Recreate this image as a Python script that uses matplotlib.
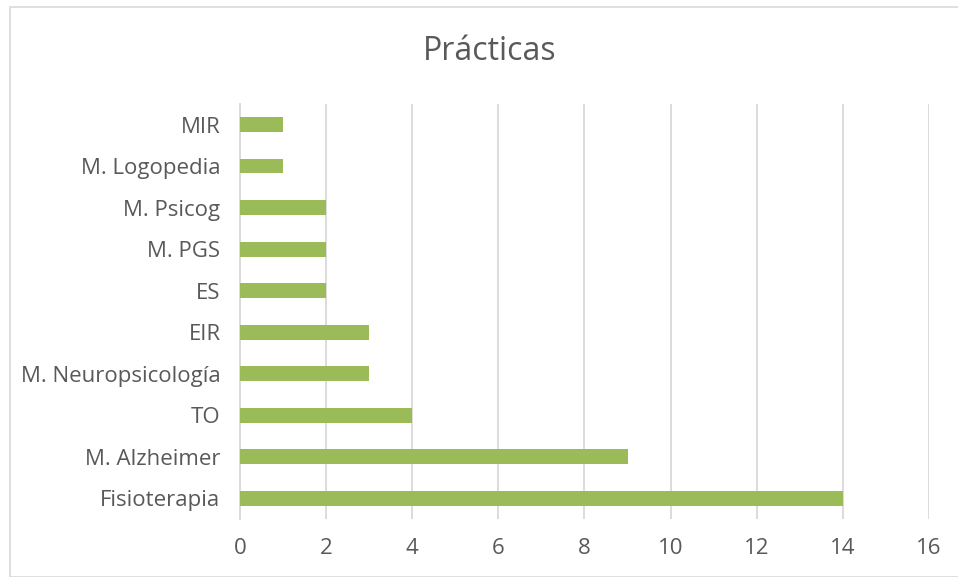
import matplotlib.pyplot as plt
from matplotlib.patches import Rectangle

categories = ['Fisioterapia', 'M. Alzheimer', 'TO', 'M. Neuropsicología', 'EIR',
              'ES', 'M. PGS', 'M. Psicog', 'M. Logopedia', 'MIR']
values = [14, 9, 4, 3, 3, 2, 2, 2, 1, 1]
xticks = [0, 2, 4, 6, 8, 10, 12, 14, 16]

plt.rcParams['font.family'] = ['Open Sans', 'DejaVu Sans']
text_color = '#595959'

fig = plt.figure(figsize=(9.58, 5.77), dpi=100)
ax = fig.add_axes([0.2505, 0.1005, 0.7192, 0.7193])

ax.barh(range(len(categories)), values, height=0.35, color='#9bbb59', zorder=3)

ax.set_xlim(0, 16)
ax.set_ylim(-0.5, len(categories) - 0.5)
ax.set_xticks(xticks)
ax.set_yticks(range(len(categories)))
ax.set_yticklabels(categories)
ax.grid(axis='x', color='#d9d9d9', linewidth=1.3, zorder=0)
ax.tick_params(length=0, labelsize=16, colors=text_color, pad=14)
ax.tick_params(axis='x', pad=14)
for s in ['top', 'right', 'bottom']:
    ax.spines[s].set_visible(False)
ax.spines['left'].set_color('#d9d9d9')
ax.spines['left'].set_linewidth(1.3)

fig.text(0.511, 0.91, 'Prácticas', ha='center', va='center', fontsize=23, color=text_color)

fig.patches.append(Rectangle((10 / 958, 0.0), 1.0, 1 - 7 / 577, transform=fig.transFigure,
                             fill=False, edgecolor='#d9d9d9', linewidth=1.2))

fig.savefig('out.png', dpi=100)
